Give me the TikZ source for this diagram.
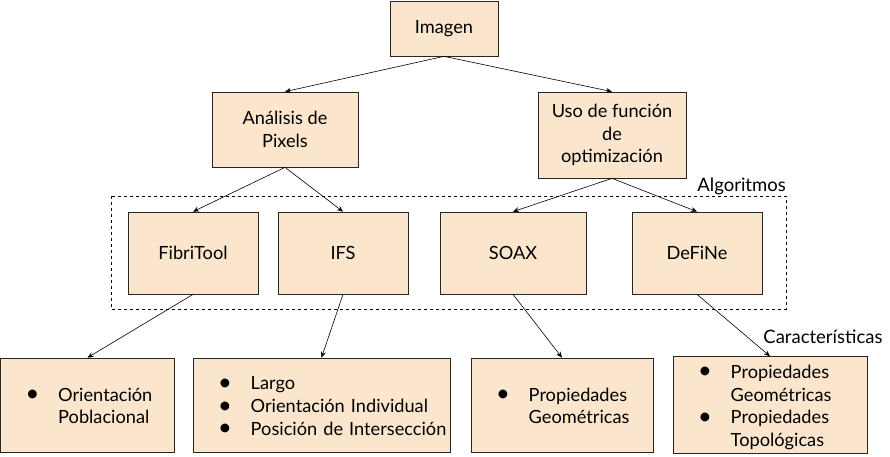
\documentclass[tikz,border=0pt]{standalone}
\usepackage{fontspec}
\setmainfont{Lato}
\usetikzlibrary{arrows.meta}
\definecolor{peach}{HTML}{FCE5CD}
\tikzset{
  caja/.style={draw=black!85, fill=peach, line width=0.7pt, inner sep=0pt,
    align=center, font=\fontsize{18.2}{22.7}\selectfont},
  cajalista/.style={caja, align=left, inner xsep=25pt, minimum height=94pt},
  etiqueta/.style={inner sep=1pt, font=\fontsize{18.5}{22.5}\selectfont},
}
\newcommand{\bala}{\raisebox{-0.5pt}{\scalebox{1.3}{\textbullet}}}
\newcommand{\lista}[1]{\raisebox{0pt}[\dimexpr\height+6pt\relax]{\begin{tabular}{@{}l@{\hspace{19pt}}l@{}}#1\end{tabular}}}
\begin{document}
\begin{tikzpicture}[x=1pt,y=-1pt]
      \useasboundingbox (0,0) rectangle (890,457);
      \node[caja, minimum width=108pt, minimum height=55pt] (imagen) at (444,28.5) {Imagen};
      \node[caja, minimum width=146pt, minimum height=75pt] (pixels) at (285,129.5) {Análisis de\\Pixels};
      \node[caja, minimum width=148pt, minimum height=86pt] (optim) at (612,135) {Uso de función\\de\\optimización};
      \draw[dashed, line width=0.6pt] (111,196) rectangle (786,309);
      \node[etiqueta, anchor=south east] (algo) at (787,196) {Algoritmos};
      \node[caja, minimum width=130pt, minimum height=82pt] (fibri) at (193,253) {FibriTool};
      \node[caja, minimum width=130pt, minimum height=82pt] (ifs) at (343,253) {IFS};
      \node[caja, minimum width=146pt, minimum height=82pt] (soax) at (513,253) {SOAX};
      \node[caja, minimum width=130pt, minimum height=82pt] (define) at (697,253) {DeFiNe};
      \node[etiqueta] (carac) at (823,337) {Características};
      \node[cajalista, text width=124pt] (pobl) at (87.5,405)
        {\lista{\bala & Orientación\\ & Poblacional}};
      \node[cajalista, text width=207pt] (largo) at (321.5,405)
        {\lista{\bala & Largo\\ \bala & Orientación Individual\\ \bala & Posición de Intersección}};
      \node[cajalista, text width=132pt] (geom) at (562,405)
        {\lista{\bala & Propiedades\\ & Geométricas}};
      \node[cajalista, text width=144pt] (topo) at (770,405)
        {\lista{\bala & Propiedades\\ & Geométricas\\ \bala & Propiedades\\ & Topológicas}};
      \begin{scope}[-{Stealth[length=6pt,width=5pt]}, line width=0.6pt]
        \draw (imagen.south) to (pixels.north);
        \draw (imagen.south) to (optim.north);
        \draw (pixels.south) to (fibri.north);
        \draw (pixels.south) to (ifs.north);
        \draw (optim.south) to (soax.north);
        \draw (optim.south) to (define.north);
        \draw (fibri.south) to (pobl.north);
        \draw (ifs.south) to (largo.north);
        \draw (soax.south) to (geom.north);
        \draw (define.south) to (topo.north);
      \end{scope}
\end{tikzpicture}
\end{document}
